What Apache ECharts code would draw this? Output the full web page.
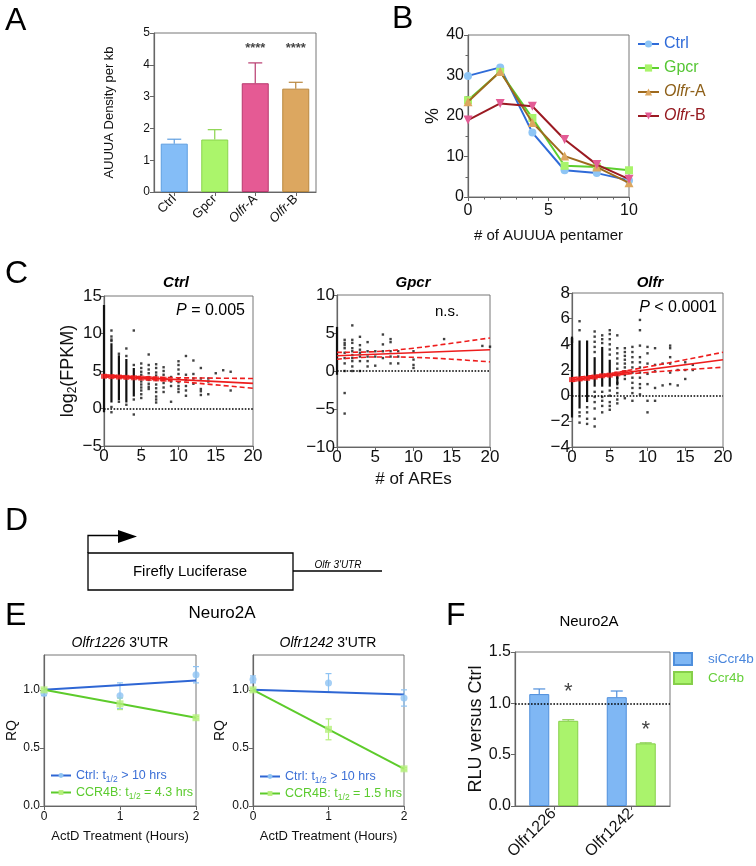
<!DOCTYPE html>
<html><head><meta charset="utf-8">
<script src="https://cdn.jsdelivr.net/npm/echarts/dist/echarts.min.js"></script>
<style>html,body{margin:0;padding:0;background:#fff}#c{width:756px;height:866px}</style>
</head><body><div id="c"></div>
<script>
const FONT = '"Liberation Sans", Arial, Helvetica, sans-serif';
const fmtNum = v => (v < 0 ? '\u2212' + Math.abs(v) : String(v));
const fmt1 = v => v.toFixed(1);

// ---------- Panel A ----------
const catA = ['Ctrl', 'Gpcr', 'Olfr-A', 'Olfr-B'];
const valA = [1.52, 1.65, 3.42, 3.25];
const errA = [0.14, 0.31, 0.64, 0.20];
const sigA = ['', '', '****', '****'];
const sigYA = [4.59, 4.59, 4.59, 4.59];

// ---------- Panel B ----------
const xB = [0, 2, 4, 6, 8, 10];
const bNames = ['Ctrl', 'Gpcr', 'Olfr-A', 'Olfr-B'];
const bCtrl = [29.9, 32.0, 15.9, 6.6, 5.9, 4.1];
const bGpcr = [23.9, 30.9, 19.5, 7.7, 7.4, 6.6];
const bOlfrA = [23.5, 31.0, 18.4, 10.1, 7.4, 3.5];
const bOlfrB = [19.0, 23.1, 22.4, 14.2, 8.0, 4.4];

// ---------- Panel C ----------
// dense columns: [x, yLow, yHigh]
const ctrlDense = [[0, -0.5, 13.8], [1, 0.8, 8.7], [2, 1.1, 7.1], [3, 0.8, 6.6], [4, 1.6, 5.4]];
const ctrlCols = [
  [1, [10.4, 9.6, 9.2, 9.0, 0.2, -0.5]], [2, [7.3, 0.9]], [3, [8.0, 7.0, 0.5]],
  [4, [10.4, 5.8, 1.2, -0.8]], [5, [6.0, 5.4, 4.9, 4.5, 4.0, 3.6, 3.2, 2.8, 2.4, 1.9, 1.4]],
  [6, [7.2, 5.8, 5.2, 4.7, 4.2, 3.8, 3.3, 2.9, 2.6]],
  [7, [5.9, 5.4, 4.8, 4.4, 3.8, 3.2, 2.7, 2.2, 1.6, 1.2, 0.8]],
  [8, [5.5, 5.0, 4.5, 4.0, 3.4, 2.8, 2.2]], [9, [4.2, 3.6, 3.0, 0.9]],
  [10, [6.3, 5.8, 5.2, 4.6, 4.0, 3.5, 3.0, 2.6, 2.2]], [11, [7.0, 4.5, 3.8, 3.0, 2.4, 1.7]],
  [12, [6.4, 4.6, 4.0, 3.3]], [13, [5.4, 4.0, 2.6, 2.3, 1.8]], [14, [4.0, 3.6, 1.9]],
  [15, [4.7]], [16, [5.1]], [17, [4.9, 2.4]]
];
const ctrlFit = [4.35, 3.35];
const ciX = [0, 5, 10, 15, 20];
const ctrlUp = [4.5, 4.22, 4.1, 4.05, 4.0];
const ctrlLo = [4.2, 3.98, 3.6, 3.15, 2.7];
const ctrlMeanX = [0, 1, 2, 3, 4, 5, 6, 7, 8];
const ctrlMeanY = [4.3, 4.25, 4.2, 4.15, 4.1, 4.05, 4.0, 3.95, 3.9];

const gpcrDense = [[0, -0.5, 5.8]];
const gpcrCols = [
  [1, [4.1, 3.7, 3.4, 3.0, 2.4, 1.7, 1.0, 0, -2.9, -5.6]],
  [2, [6.0, 4.1, 3.7, 3.0, 2.6, 2.1, 1.7, 1.3, 0.6, 0]],
  [3, [4.5, 3.4, 2.8, 2.4, 1.9, 1.3, 0]], [4, [3.8, 2.6, 1.9, 1.3, 0.6]],
  [5, [2.6, 1.9, 0.7]], [6, [4.8, 3.5, 2.6, 1.7]], [7, [4.2, 3.8, 2.6, 1.9, 1.0]],
  [8, [2.6, 1.9, 1.0]], [10, [2.6, 1.5, 0.8, 0.4]], [14, [4.2]], [19, [3.3]], [20, [3.2]]
];
const gpcrFit = [2.0, 2.8];
const gpcrUp = [2.45, 2.55, 3.0, 3.65, 4.35];
const gpcrLo = [1.55, 1.85, 1.8, 1.55, 1.2];

const olfrDense = [[0, -1.7, 4.6], [1, -1.0, 4.3], [2, -0.5, 4.3], [3, 0.7, 3.0], [4, 0.7, 3.8], [5, 0.7, 2.8], [6, 0.8, 1.8]];
const olfrCols = [
  [0, [4.4, 4.2]], [1, [5.8, 5.1, -1.3, -1.6, -2.1]], [2, [-0.9, -1.3, -1.8, -2.2]],
  [3, [5.0, 4.6, 4.2, 3.8, 3.4, 0.3, -0.1, -0.5, -1.0, -1.8, -2.4]],
  [4, [4.7, 4.4, 4.1, 0.3, -0.1, -0.4, -0.8, -1.3]],
  [5, [5.1, 4.8, 4.4, 4.0, 3.6, 3.2, 0.4, 0.0, -0.5, -0.8, -1.1]],
  [6, [4.7, 3.7, 3.3, 2.9, 2.5, 2.1, 1.4, 1.0, 0.6, 0.2, -0.3, -0.6]],
  [7, [3.7, 3.4, 3.1, 2.8, 2.5, 2.2, 1.9, 1.6, 1.3, -0.2]],
  [8, [3.8, 3.4, 3.0, 2.6, 2.2, 1.8, 1.4, 1.0, 0.6, 0.2, -0.4]],
  [9, [5.9, 5.1, 3.9, 3.0, 2.6, 2.2, 1.8, 1.4, 0.9, 0.6, 0.1]],
  [10, [3.8, 3.3, 2.5, 1.7, 0.9, -0.4, -1.3]], [11, [3.7, 2.4, 1.9, 0.6, -0.4]],
  [12, [2.5, 0.8]], [13, [3.9, 3.7, 3.0, 2.5, 1.8, 0.9]], [14, [2.0, 0.8]],
  [15, [2.6, 2.0, 1.3]], [16, [2.4, 2.0]]
];
const olfrFit = [1.25, 2.8];
const olfrUp = [1.4, 1.72, 2.25, 2.8, 3.38];
const olfrLo = [1.1, 1.56, 1.81, 2.02, 2.22];
const olfrMeanX = [0, 1, 2, 3, 4, 5, 6, 7];
const olfrMeanY = [1.25, 1.3, 1.35, 1.45, 1.55, 1.6, 1.7, 1.8];

// ---------- Panel E ----------
const xE = [0, 1, 2];
const fitX = [0, 2];
const e1Ctrl = [0.97, 0.95, 1.13], e1CtrlErr = [0.02, 0.11, 0.07];
const e1Ccr = [1.0, 0.88, 0.76], e1CcrErr = [0.01, 0.05, 0.01];
const e1CtrlFit = [1.0, 1.08], e1CcrFit = [1.0, 0.76];
const e2Ctrl = [1.09, 1.06, 0.93], e2CtrlErr = [0.03, 0.08, 0.07];
const e2Ccr = [1.0, 0.66, 0.32], e2CcrErr = [0.01, 0.09, 0.01];
const e2CtrlFit = [1.0, 0.96], e2CcrFit = [1.0, 0.32];

// ---------- Panel F ----------
const catF = ['Olfr1226', 'Olfr1242'];
const fSi = [1.09, 1.06], fSiErr = [0.05, 0.06];
const fCcr = [0.83, 0.61], fCcrErr = [0.01, 0.005];
const fSig = ['*', '*'], fSigY = [1.15, 0.78];
const fRef = 1.0;

// ---------- helpers ----------
const colA = ['#84BDF7', '#ABF56B', '#E55A94', '#DCA760'];
const bordA = ['#5E9EE0', '#8AD44C', '#B83A6E', '#B9873E'];
const BLUE_L = '#2E66D4', BLUE_P = '#8EC3F3', GREEN_L = '#5DCB2B', GREEN_P = '#B5F07C';
const RED = '#EE1D1D';

function pts(cols) { return cols.flatMap(([x, ys]) => ys.map(y => [x, y])); }

function errRender(colorFn, cap, offset, both) {
  return function (params, api) {
    const x = api.value(0), y = api.value(1), e = api.value(2);
    const pTop = api.coord([x, y + e]);
    const pMid = api.coord([x, y]);
    const pBot = api.coord([x, both ? y - e : y]);
    const cx = pMid[0] + (offset || 0);
    const col = colorFn(params.dataIndex);
    const st = () => ({ stroke: col, lineWidth: 1.2 });
    const ch = [
      { type: 'line', shape: { x1: cx, y1: pBot[1], x2: cx, y2: pTop[1] }, style: st() },
      { type: 'line', shape: { x1: cx - cap / 2, y1: pTop[1], x2: cx + cap / 2, y2: pTop[1] }, style: st() }
    ];
    if (both) ch.push({ type: 'line', shape: { x1: cx - cap / 2, y1: pBot[1], x2: cx + cap / 2, y2: pBot[1] }, style: st() });
    return { type: 'group', children: ch };
  };
}
function denseRender(params, api) {
  const a = api.coord([api.value(0), api.value(1)]);
  const b = api.coord([api.value(0), api.value(2)]);
  return { type: 'rect', shape: { x: a[0] - 1.1, y: b[1], width: 2.2, height: a[1] - b[1] }, style: { fill: '#111' } };
}

function valAxis(o) {
  return Object.assign({
    type: 'value', gridIndex: o.g, min: o.min, max: o.max, interval: o.int,
    axisLine: { show: true, onZero: false, lineStyle: { color: '#666', width: 1.2 } },
    axisTick: { show: true, length: 4, lineStyle: { color: '#666', width: 1 } },
    minorTick: o.minor ? { show: true, splitNumber: o.minor, length: 2.5, lineStyle: { color: '#666' } } : { show: false },
    splitLine: { show: false }, minorSplitLine: { show: false },
    axisLabel: { show: true, fontFamily: FONT, fontSize: o.fs, color: '#111', margin: o.margin || 4, formatter: o.fmt || fmtNum, showMaxLabel: o.noMax ? false : null },
    nameTextStyle: { fontFamily: FONT, fontSize: o.nfs || o.fs, color: '#111', rich: o.rich }
  }, o.name ? { name: o.name, nameLocation: 'middle', nameGap: o.gap, nameRotate: o.rot || 0 } : {});
}

function cSeries(gi, dense, cols, fit, up, lo, meanX, meanY) {
  const s = [
    { type: 'custom', xAxisIndex: gi, yAxisIndex: gi, data: dense, renderItem: denseRender, encode: { x: 0, y: [1, 2] }, z: 2, clip: false, silent: true },
    { type: 'scatter', xAxisIndex: gi, yAxisIndex: gi, data: pts(cols), symbol: 'rect', symbolSize: 2.4, itemStyle: { color: '#111' }, z: 2, clip: false, silent: true,
      markLine: { silent: true, symbol: 'none', label: { show: false }, lineStyle: { type: 'dotted', color: '#000', width: 1.6 }, data: [{ yAxis: 0 }] } },
    { type: 'line', xAxisIndex: gi, yAxisIndex: gi, data: [[0, fit[0]], [20, fit[1]]], showSymbol: false, lineStyle: { color: RED, width: 1.6 }, z: 5, silent: true },
    { type: 'line', xAxisIndex: gi, yAxisIndex: gi, data: ciX.map((x, i) => [x, up[i]]), smooth: 0.35, showSymbol: false, lineStyle: { color: RED, width: 1.6, type: [5, 3] }, z: 5, silent: true },
    { type: 'line', xAxisIndex: gi, yAxisIndex: gi, data: ciX.map((x, i) => [x, lo[i]]), smooth: 0.35, showSymbol: false, lineStyle: { color: RED, width: 1.6, type: [5, 3] }, z: 5, silent: true }
  ];
  if (meanX) s.push({ type: 'scatter', xAxisIndex: gi, yAxisIndex: gi, data: meanX.map((x, i) => [x, meanY[i]]), symbol: 'rect', symbolSize: [6, 5], itemStyle: { color: RED }, z: 6, clip: false, silent: true });
  return s;
}

function eSeries(gi, tag, ctrl, ctrlErr, ccr, ccrErr, ctrlFit, ccrFit) {
  return [
    { type: 'line', name: tag + 'ctrl', xAxisIndex: gi, yAxisIndex: gi, data: fitX.map((x, i) => [x, ctrlFit[i]]), symbol: 'circle', symbolSize: 6, showSymbol: false, lineStyle: { color: BLUE_L, width: 2 }, itemStyle: { color: BLUE_P }, z: 4 },
    { type: 'line', name: tag + 'ccr', xAxisIndex: gi, yAxisIndex: gi, data: fitX.map((x, i) => [x, ccrFit[i]]), symbol: 'rect', symbolSize: 6, showSymbol: false, lineStyle: { color: GREEN_L, width: 2 }, itemStyle: { color: GREEN_P }, z: 4 },
    { type: 'custom', xAxisIndex: gi, yAxisIndex: gi, data: xE.map((x, i) => [x, ctrl[i], ctrlErr[i]]), renderItem: errRender(() => BLUE_P, 6, 0, true), z: 3, clip: false },
    { type: 'custom', xAxisIndex: gi, yAxisIndex: gi, data: xE.map((x, i) => [x, ccr[i], ccrErr[i]]), renderItem: errRender(() => GREEN_P, 6, 0, true), z: 3, clip: false },
    { type: 'scatter', xAxisIndex: gi, yAxisIndex: gi, data: xE.map((x, i) => [x, ctrl[i]]), symbol: 'circle', symbolSize: 7, itemStyle: { color: BLUE_P }, z: 5, clip: false },
    { type: 'scatter', xAxisIndex: gi, yAxisIndex: gi, data: xE.map((x, i) => [x, ccr[i]]), symbol: 'rect', symbolSize: 7, itemStyle: { color: GREEN_P }, z: 5, clip: false }
  ];
}

const bStyles = [
  { line: '#2F6BD8', fill: '#8EC5F5', sym: 'circle', size: 8, text: '#2F6BD8' },
  { line: '#5CCF2E', fill: '#A9F46B', sym: 'rect', size: 8, text: '#55C634' },
  { line: '#9E6A1E', fill: '#DCA760', sym: 'triangle', size: 9, text: '#8E6019' },
  { line: '#9B1A22', fill: '#E35C95', sym: 'path://M0,0L10,0L5,9Z', size: 9, text: '#951A20' }
];
const bData = [bCtrl, bGpcr, bOlfrA, bOlfrB];

function T(text, x, y, size, extra) {
  return { type: 'text', x: x, y: y, silent: true, style: Object.assign({ text: text, fontSize: size, fontFamily: FONT, fill: '#000', align: 'left', verticalAlign: 'middle' }, extra || {}) };
}

const graphics = [
  T('A', 5, 21, 32), T('B', 392, 19, 32), T('C', 5, 274, 32), T('D', 5, 521, 32), T('E', 5, 616, 32), T('F', 446, 616, 32),
  T('Ctrl', 176, 283, 15, { align: 'center', fontWeight: 'bold', fontStyle: 'italic' }),
  T('Gpcr', 413, 283, 15, { align: 'center', fontWeight: 'bold', fontStyle: 'italic' }),
  T('Olfr', 650, 283, 15, { align: 'center', fontWeight: 'bold', fontStyle: 'italic' }),
  T('{i|P}{n| = 0.005}', 245, 311, 16, { align: 'right', rich: { i: { fontStyle: 'italic', fontSize: 16, fontFamily: FONT }, n: { fontSize: 16, fontFamily: FONT } } }),
  T('n.s.', 447, 312, 15, { align: 'center' }),
  T('{i|P}{n| < 0.0001}', 717, 308, 16, { align: 'right', rich: { i: { fontStyle: 'italic', fontSize: 16, fontFamily: FONT }, n: { fontSize: 16, fontFamily: FONT } } }),
  // Panel D construct
  { type: 'polyline', silent: true, shape: { points: [[88, 553], [88, 535.5], [120, 535.5]] }, style: { stroke: '#000', lineWidth: 1.3, fill: null } },
  { type: 'polygon', silent: true, shape: { points: [[118, 530], [137, 536.5], [118, 543]] }, style: { fill: '#000' } },
  { type: 'rect', silent: true, shape: { x: 88, y: 553, width: 205, height: 37 }, style: { stroke: '#000', lineWidth: 1.3, fill: null } },
  { type: 'line', silent: true, shape: { x1: 293, y1: 571, x2: 382, y2: 571 }, style: { stroke: '#000', lineWidth: 1.3 } },
  T('Firefly Luciferase', 190, 572, 15, { align: 'center' }),
  T("Olfr 3'UTR", 338, 565, 10, { align: 'center', fontStyle: 'italic' }),
  // Panel E / F titles
  T('Neuro2A', 222, 613, 17, { align: 'center' }),
  T("{i|Olfr1226}{n| 3'UTR}", 120, 643, 14, { align: 'center', rich: { i: { fontStyle: 'italic', fontSize: 14, fontFamily: FONT }, n: { fontSize: 14, fontFamily: FONT } } }),
  T("{i|Olfr1242}{n| 3'UTR}", 328, 643, 14, { align: 'center', rich: { i: { fontStyle: 'italic', fontSize: 14, fontFamily: FONT }, n: { fontSize: 14, fontFamily: FONT } } }),
  T('Neuro2A', 589, 622, 15, { align: 'center' })
];

const grids = [
  { left: 154, top: 33, width: 162, height: 159 },
  { left: 468, top: 35, width: 161, height: 162 },
  { left: 104, top: 296, width: 149, height: 150 },
  { left: 337, top: 295, width: 153, height: 152 },
  { left: 572, top: 293, width: 151, height: 154 },
  { left: 44, top: 655, width: 152, height: 151 },
  { left: 253, top: 655, width: 151, height: 151 },
  { left: 515, top: 652, width: 155, height: 154 }
].map(g => Object.assign({ show: true, borderColor: '#777', borderWidth: 1, backgroundColor: 'transparent', containLabel: false, outerBoundsMode: 'none' }, g));

const catAxisBase = (g, data, fs, rich, fmt) => ({
  type: 'category', gridIndex: g, data: data,
  axisLine: { show: true, lineStyle: { color: '#666', width: 1.2 } },
  axisTick: { show: true, alignWithLabel: true, length: 4, lineStyle: { color: '#666' } },
  splitLine: { show: false },
  axisLabel: { rotate: 45, fontFamily: FONT, fontSize: fs, color: '#111', margin: 5, interval: 0, rich: rich, formatter: fmt }
});

const xAxes = [
  catAxisBase(0, catA, 13, { i: { fontStyle: 'italic', fontSize: 13, fontFamily: FONT, color: '#111' }, n: { fontSize: 13, fontFamily: FONT, color: '#111' } },
    v => v.startsWith('Olfr') ? '{i|Olfr}{n|' + v.slice(4) + '}' : v),
  valAxis({ g: 1, min: 0, max: 10, int: 5, fs: 16, minor: 5, margin: 6, name: '# of AUUUA pentamer', gap: 31, nfs: 15 }),
  valAxis({ g: 2, min: 0, max: 20, int: 5, fs: 17, margin: 2 }),
  valAxis({ g: 3, min: 0, max: 20, int: 5, fs: 17, margin: 2, name: '# of AREs', gap: 24, nfs: 17 }),
  valAxis({ g: 4, min: 0, max: 20, int: 5, fs: 17, margin: 2 }),
  valAxis({ g: 5, min: 0, max: 2, int: 1, fs: 12, margin: 5, name: 'ActD Treatment (Hours)', gap: 24, nfs: 13 }),
  valAxis({ g: 6, min: 0, max: 2, int: 1, fs: 12, margin: 5, name: 'ActD Treatment (Hours)', gap: 24, nfs: 13 }),
  catAxisBase(7, catF, 16, null, null)
];
const yAxes = [
  valAxis({ g: 0, min: 0, max: 5, int: 1, fs: 12, name: 'AUUUA Density per kb', gap: 38, nfs: 13, rot: 90 }),
  valAxis({ g: 1, min: 0, max: 40, int: 10, fs: 16, minor: 2, name: '%', gap: 22, nfs: 18, rot: 90 }),
  valAxis({ g: 2, min: -5, max: 15, int: 5, fs: 17, margin: 2, name: '{m|log}{s|2}{m|(FPKM)}', gap: 16, nfs: 18, rot: 90,
    rich: { m: { fontSize: 18, fontFamily: FONT, color: '#111', lineHeight: 22 }, s: { fontSize: 12, fontFamily: FONT, color: '#111', verticalAlign: 'bottom' } } }),
  valAxis({ g: 3, min: -10, max: 10, int: 5, fs: 17, margin: 2 }),
  valAxis({ g: 4, min: -4, max: 8, int: 2, fs: 17, margin: 2 }),
  valAxis({ g: 5, min: 0, max: 1.3, int: 0.5, fs: 12, fmt: fmt1, noMax: true, name: 'RQ', gap: 25, nfs: 14, rot: 90 }),
  valAxis({ g: 6, min: 0, max: 1.3, int: 0.5, fs: 12, fmt: fmt1, noMax: true, name: 'RQ', gap: 26, nfs: 14, rot: 90 }),
  valAxis({ g: 7, min: 0, max: 1.5, int: 0.5, fs: 16, fmt: fmt1, name: 'RLU versus Ctrl', gap: 30, nfs: 18, rot: 90 })
];

const series = [];
// A
series.push({ type: 'bar', xAxisIndex: 0, yAxisIndex: 0, barWidth: 27, z: 2,
  data: valA.map((v, i) => ({ value: v, itemStyle: { color: colA[i], borderColor: bordA[i], borderWidth: 1 } })) });
series.push({ type: 'custom', xAxisIndex: 0, yAxisIndex: 0, z: 3, data: valA.map((v, i) => [i, v, errA[i]]), renderItem: errRender(i => bordA[i], 14, 0, false) });
series.push({ type: 'scatter', xAxisIndex: 0, yAxisIndex: 0, symbolSize: 1, itemStyle: { color: 'rgba(0,0,0,0)' }, z: 4,
  data: sigYA.map((y, i) => [i, y]),
  label: { show: true, position: 'inside', offset: [0, 2], formatter: p => sigA[p.dataIndex], fontFamily: FONT, fontSize: 13, fontWeight: 'bold', color: '#111' } });
// B
bNames.forEach((n, k) => {
  const st = bStyles[k];
  series.push({ type: 'line', name: n, xAxisIndex: 1, yAxisIndex: 1, data: xB.map((x, i) => [x, bData[k][i]]),
    symbol: st.sym, symbolSize: st.size, showSymbol: true, lineStyle: { color: st.line, width: 2 }, itemStyle: { color: st.fill }, z: 3 + k, clip: false });
});
// C
series.push(...cSeries(2, ctrlDense, ctrlCols, ctrlFit, ctrlUp, ctrlLo, ctrlMeanX, ctrlMeanY));
series.push(...cSeries(3, gpcrDense, gpcrCols, gpcrFit, gpcrUp, gpcrLo, null, null));
series.push(...cSeries(4, olfrDense, olfrCols, olfrFit, olfrUp, olfrLo, olfrMeanX, olfrMeanY));
// E
series.push(...eSeries(5, 'e1', e1Ctrl, e1CtrlErr, e1Ccr, e1CcrErr, e1CtrlFit, e1CcrFit));
series.push(...eSeries(6, 'e2', e2Ctrl, e2CtrlErr, e2Ccr, e2CcrErr, e2CtrlFit, e2CcrFit));
// F
series.push({ type: 'bar', name: 'siCcr4b', xAxisIndex: 7, yAxisIndex: 7, data: fSi, barWidth: 20, barGap: '45%',
  itemStyle: { color: '#7FB7F4', borderColor: '#4F8FDC', borderWidth: 1 }, z: 2,
  markLine: { silent: true, symbol: 'none', label: { show: false }, lineStyle: { type: 'dotted', color: '#000', width: 1.6 }, data: [{ yAxis: fRef }] } });
series.push({ type: 'bar', name: 'Ccr4b', xAxisIndex: 7, yAxisIndex: 7, data: fCcr, barWidth: 20,
  itemStyle: { color: '#AAF36C', borderColor: '#86CF4A', borderWidth: 1 }, z: 2 });
series.push({ type: 'custom', xAxisIndex: 7, yAxisIndex: 7, z: 3, data: fSi.map((v, i) => [i, v, fSiErr[i]]), renderItem: errRender(() => '#4F8FDC', 12, -14.5, false) });
series.push({ type: 'custom', xAxisIndex: 7, yAxisIndex: 7, z: 3, data: fCcr.map((v, i) => [i, v, fCcrErr[i]]), renderItem: errRender(() => '#86CF4A', 12, 14.5, false) });
series.push({ type: 'scatter', xAxisIndex: 7, yAxisIndex: 7, symbolSize: 1, itemStyle: { color: 'rgba(0,0,0,0)' }, z: 4,
  data: fSigY.map((y, i) => [i, y]),
  label: { show: true, position: 'inside', offset: [14.5, 4], formatter: p => fSig[p.dataIndex], fontFamily: FONT, fontSize: 22, color: '#111' } });

const eRich = {
  bt: { color: '#3B6FD6', fontSize: 12.5, fontFamily: FONT, lineHeight: 17 },
  bs: { color: '#3B6FD6', fontSize: 8.5, fontFamily: FONT, verticalAlign: 'bottom' },
  gt: { color: '#5BCB2E', fontSize: 12.5, fontFamily: FONT, lineHeight: 17 },
  gs: { color: '#5BCB2E', fontSize: 8.5, fontFamily: FONT, verticalAlign: 'bottom' }
};
const eLabel = {
  e1ctrl: '{bt|Ctrl: t}{bs|1/2}{bt| > 10 hrs}', e1ccr: '{gt|CCR4B: t}{gs|1/2}{gt| = 4.3 hrs}',
  e2ctrl: '{bt|Ctrl: t}{bs|1/2}{bt| > 10 hrs}', e2ccr: '{gt|CCR4B: t}{gs|1/2}{gt| = 1.5 hrs}'
};

const legends = [
  { left: 637, top: 36, padding: 0, orient: 'vertical', itemWidth: 21, itemHeight: 9, itemGap: 8, selectedMode: false,
    data: bNames.map((n, k) => ({ name: n, textStyle: { color: bStyles[k].text } })),
    formatter: n => n === 'Olfr-A' ? '{ia|Olfr}{na|-A}' : (n === 'Olfr-B' ? '{ib|Olfr}{nb|-B}' : n),
    textStyle: { fontFamily: FONT, fontSize: 16, rich: {
      ia: { fontStyle: 'italic', color: bStyles[2].text, fontSize: 16, fontFamily: FONT }, na: { color: bStyles[2].text, fontSize: 16, fontFamily: FONT },
      ib: { fontStyle: 'italic', color: bStyles[3].text, fontSize: 16, fontFamily: FONT }, nb: { color: bStyles[3].text, fontSize: 16, fontFamily: FONT } } } },
  { left: 50, top: 769, padding: 0, orient: 'vertical', itemWidth: 20, itemHeight: 6, itemGap: 2, selectedMode: false,
    data: ['e1ctrl', 'e1ccr'], formatter: n => eLabel[n], textStyle: { rich: eRich } },
  { left: 259, top: 770, padding: 0, orient: 'vertical', itemWidth: 20, itemHeight: 6, itemGap: 2, selectedMode: false,
    data: ['e2ctrl', 'e2ccr'], formatter: n => eLabel[n], textStyle: { rich: eRich } },
  { left: 673, top: 652, padding: 0, orient: 'vertical', itemWidth: 18, itemHeight: 12, itemGap: 5, icon: 'rect', selectedMode: false,
    data: [{ name: 'siCcr4b', textStyle: { color: '#4A86DC' } }, { name: 'Ccr4b', textStyle: { color: '#66D03A' } }],
    textStyle: { fontFamily: FONT, fontSize: 13.5, padding: [0, 0, 0, 11] } }
];

const chart = echarts.init(document.getElementById('c'), null, { renderer: 'canvas', width: 756, height: 866 });
chart.setOption({
  backgroundColor: '#fff',
  animation: false,
  textStyle: { fontFamily: FONT },
  grid: grids, xAxis: xAxes, yAxis: yAxes,
  legend: legends,
  series: series,
  graphic: graphics
});
</script></body></html>
